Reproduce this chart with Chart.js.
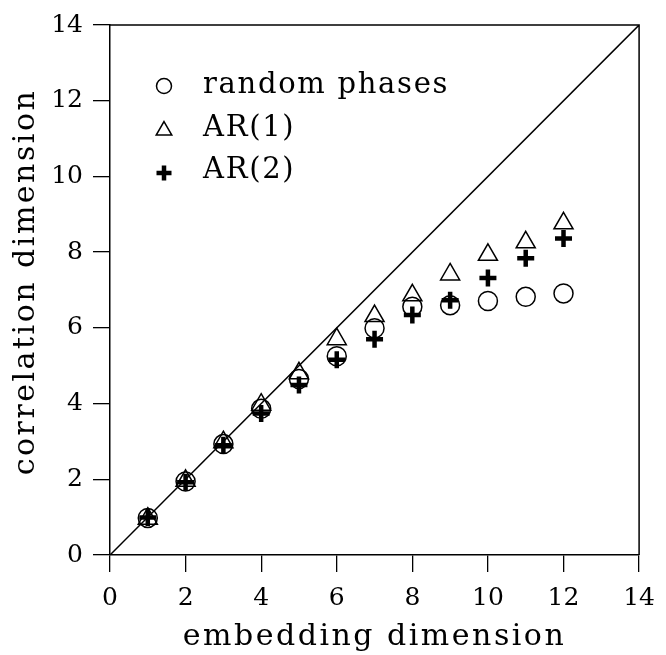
<!DOCTYPE html>
<html>
<head>
<meta charset="utf-8">
<script src="https://cdn.jsdelivr.net/npm/chart.js@4.4.0/dist/chart.umd.min.js"></script>
<style>
  html, body { margin: 0; padding: 0; background: #fff; }
  #wrap { width: 666px; height: 655px; }
</style>
</head>
<body>
<div id="wrap"><canvas id="chart" width="666" height="655"></canvas></div>
<script>
// data
const embeddingDims = [1, 2, 3, 4, 5, 6, 7, 8, 9, 10, 11, 12];
const randomPhases = [0.98, 1.94, 2.93, 3.86, 4.65, 5.25, 5.99, 6.56, 6.60, 6.71, 6.82, 6.91];
const ar1 = [0.96, 1.96, 2.98, 3.97, 4.80, 5.70, 6.31, 6.86, 7.41, 7.93, 8.26, 8.76];
const ar2 = [0.99, 1.92, 2.90, 3.74, 4.49, 5.16, 5.70, 6.34, 6.73, 7.32, 7.84, 8.36];
const diagonalX = [0, 14];
const diagonalY = [0, 14];
const axisTicks = [0, 2, 4, 6, 8, 10, 12, 14];

const seriesLabels = ["random phases", "AR(1)", "AR(2)"];
const xTitle = "embedding dimension";
const yTitle = "correlation dimension";

const SERIF = "'DejaVu Serif', 'Liberation Serif', serif";

function toPoints(xs, ys) {
  return xs.map((x, i) => ({ x: x, y: ys[i] }));
}

// white page, top/right frame lines and the two axis titles
const framePlugin = {
  id: "frame",
  beforeDraw(chart) {
    const ctx = chart.ctx;
    ctx.save();
    ctx.fillStyle = "#fff";
    ctx.fillRect(0, 0, chart.width, chart.height);
    ctx.restore();
  },
  afterDraw(chart) {
    const ctx = chart.ctx;
    const a = chart.chartArea;
    ctx.save();
    ctx.strokeStyle = "#000";
    ctx.lineWidth = 1.5;
    ctx.beginPath();
    ctx.moveTo(a.left, a.top);
    ctx.lineTo(a.right, a.top);
    ctx.lineTo(a.right, a.bottom);
    ctx.stroke();

    ctx.fillStyle = "#000";
    ctx.font = "30px " + SERIF;
    ctx.letterSpacing = "2.5px";
    ctx.textAlign = "center";
    ctx.textBaseline = "alphabetic";
    ctx.fillText(xTitle, (a.left + a.right) / 2, 645);
    ctx.translate(34, 282);
    ctx.rotate(-Math.PI / 2);
    ctx.fillText(yTitle, 0, 0);
    ctx.restore();
  }
};

// legend drawn inside the plot, upper left
const insideLegend = {
  id: "insideLegend",
  afterDatasetsDraw(chart) {
    const ctx = chart.ctx;
    const a = chart.chartArea;
    let row = 0;
    chart.data.datasets.forEach(ds => {
      if (!ds.inLegend) {return;}
      const base = a.top + 68 + row * 42.5;
      ctx.save();
      ctx.strokeStyle = "#000";
      ctx.fillStyle = "rgba(0,0,0,0)";
      ctx.lineWidth = ds.borderWidth;
      Chart.helpers.drawPoint(ctx, {
        pointStyle: ds.pointStyle,
        radius: ds.legendRadius,
        borderWidth: ds.borderWidth,
        rotation: 0
      }, a.left + 54, base - ds.legendDy);
      ctx.fillStyle = "#000";
      ctx.font = "29px " + SERIF;
      ctx.letterSpacing = "1.7px";
      ctx.textAlign = "left";
      ctx.textBaseline = "alphabetic";
      ctx.fillText(ds.label, a.left + 93, base);
      ctx.restore();
      row++;
    });
  }
};

const axisCommon = {
  type: "linear",
  min: 0,
  max: 14,
  afterBuildTicks: scale => { scale.ticks = axisTicks.map(v => ({ value: v })); },
  grid: {
    drawOnChartArea: false,
    drawTicks: true,
    tickLength: 17,
    color: "#000",
    lineWidth: 1.3
  },
  border: { display: true, color: "#000", width: 1.5 },
  title: { display: false }
};

new Chart(document.getElementById("chart"), {
  type: "scatter",
  data: {
    datasets: [
      {
        label: seriesLabels[0],
        data: toPoints(embeddingDims, randomPhases),
        pointStyle: "circle",
        pointRadius: 9.5,
        borderWidth: 1.5,
        borderColor: "#000",
        backgroundColor: "rgba(0,0,0,0)",
        inLegend: true,
        legendRadius: 7.5,
        legendDy: 7
      },
      {
        label: seriesLabels[1],
        data: toPoints(embeddingDims, ar1),
        pointStyle: "triangle",
        pointRadius: 11,
        borderWidth: 1.5,
        borderColor: "#000",
        backgroundColor: "rgba(0,0,0,0)",
        inLegend: true,
        legendRadius: 9,
        legendDy: 5
      },
      {
        label: seriesLabels[2],
        data: toPoints(embeddingDims, ar2),
        pointStyle: "cross",
        pointRadius: 8.5,
        borderWidth: 4.5,
        borderColor: "#000",
        backgroundColor: "rgba(0,0,0,0)",
        inLegend: true,
        legendRadius: 7.5,
        legendDy: 5
      },
      {
        label: "diagonal",
        data: toPoints(diagonalX, diagonalY),
        showLine: true,
        pointRadius: 0,
        borderWidth: 1.5,
        borderColor: "#000",
        backgroundColor: "rgba(0,0,0,0)"
      }
    ]
  },
  options: {
    responsive: false,
    animation: false,
    devicePixelRatio: 1,
    layout: { padding: { top: 20, right: 23, left: 0, bottom: 0 } },
    plugins: {
      legend: { display: false },
      tooltip: { enabled: false }
    },
    scales: {
      x: Object.assign({}, axisCommon, {
        position: "bottom",
        afterFit: scale => { scale.height = 100; },
        ticks: { color: "#000", font: { family: SERIF, size: 25 }, padding: 11, maxRotation: 0 }
      }),
      y: Object.assign({}, axisCommon, {
        position: "left",
        afterFit: scale => { scale.width = 110; },
        ticks: { color: "#000", font: { family: SERIF, size: 25 }, padding: 10 }
      })
    }
  },
  plugins: [framePlugin, insideLegend]
});
</script>
</body>
</html>
